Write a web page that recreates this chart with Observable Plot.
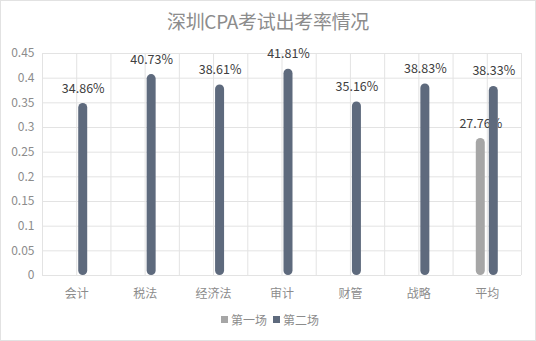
<!DOCTYPE html>
<html>
<head>
<meta charset="utf-8">
<script src="https://cdn.jsdelivr.net/npm/d3@7"></script>
<script src="https://cdn.jsdelivr.net/npm/@observablehq/plot@0.6"></script>
<style>
  html, body { margin: 0; padding: 0; background: #fff; }
  #wrap { position: relative; width: 536px; height: 341px; overflow: hidden; font-family: "Noto Sans CJK SC", "Noto Sans", sans-serif; }
  #wrap svg { position: absolute; left: 0; top: 0; }
  #title { position: absolute; left: 0; top: 7px; width: 536px; text-align: center; font-size: 19px; color: #8c8c8c; letter-spacing: -0.3px; }
  #legend { position: absolute; left: 0; top: 311px; width: 536px; display: flex; justify-content: center; align-items: center; font-size: 12px; color: #8c8c8c; padding-left: 4px; box-sizing: border-box; }
  #legend .sw { display: inline-block; width: 7px; height: 7px; margin-right: 3px; }
  #legend .item { display: flex; align-items: center; margin: 0 3px; }
  #frame { position: absolute; left: 0; top: 0; width: 536px; height: 341px; box-sizing: border-box; border: 1px solid #e2e2e2; pointer-events: none; }
</style>
</head>
<body>
<div id="wrap">
  <div id="chart"></div>
  <div id="title">深圳CPA考试出考率情况</div>
  <div id="legend"></div>
  <div id="frame"></div>
</div>
<script>
const categories = ["会计", "税法", "经济法", "审计", "财管", "战略", "平均"];
const seriesNames = ["第一场", "第二场"];
const firstSession = [null, null, null, null, null, null, 0.2776];
const secondSession = [0.3486, 0.4073, 0.3861, 0.4181, 0.3516, 0.3883, 0.3833];
const yTicks = [0, 0.05, 0.1, 0.15, 0.2, 0.25, 0.3, 0.35, 0.4, 0.45];
const colors = ["#a6a6a6", "#5e6a7d"];

const rows = [];
categories.forEach((c, i) => {
  if (firstSession[i] != null) rows.push({i, cat: c, series: seriesNames[0], value: firstSession[i]});
  if (secondSession[i] != null) rows.push({i, cat: c, series: seriesNames[1], value: secondSession[i]});
});
const r1 = rows.filter(d => d.series === seriesNames[0]);
const r2 = rows.filter(d => d.series === seriesNames[1]);

const xGrid = d3.range(-0.5, categories.length - 0.5 + 0.01, 0.5);
const fmt = d => (d * 100).toFixed(2) + "%";

const plotW = 536 - 42 - 15;
const band = plotW / categories.length;
const barW = 9;
const inset = (band - barW) / 2;

function bars(data, color, off) {
  return [
    Plot.rectY(data, {x1: d => d.i - 0.5, x2: d => d.i + 0.5, y1: 0, y2: "value", dx: off, fill: color, insetLeft: inset, insetRight: inset, rx: 4.5}),
    Plot.text(data, {x: "i", y: "value", dx: off, dy: -15, text: d => fmt(d.value), fill: "#404040", fontSize: 12.5})
  ];
}

const chart = Plot.plot({
  width: 536,
  height: 341,
  marginLeft: 42,
  marginRight: 15,
  marginTop: 53,
  marginBottom: 66,
  style: {fontFamily: "'Noto Sans CJK SC', 'Noto Sans', sans-serif", background: "transparent"},
  x: {type: "linear", domain: [-0.5, categories.length - 0.5]},
  y: {domain: [0, 0.45]},
  marks: [
    Plot.gridY(yTicks, {stroke: "#e3e3e3", strokeOpacity: 1}),
    Plot.gridX(xGrid, {stroke: "#e3e3e3", strokeOpacity: 1}),
    Plot.axisY(yTicks, {tickSize: 0, tickPadding: 8, tickFormat: d => String(+d.toFixed(2)), label: null, fill: "#8c8c8c", fontSize: 12}),
    Plot.axisX(d3.range(categories.length), {tickSize: 0, tickPadding: 14, tickFormat: i => categories[i], label: null, fill: "#8c8c8c", fontSize: 12}),
    ...bars(r1, colors[0], -6.5),
    ...bars(r2, colors[1], 6.5)
  ]
});
document.getElementById("chart").appendChild(chart);

const legend = document.getElementById("legend");
seriesNames.forEach((s, k) => {
  const item = document.createElement("span");
  item.className = "item";
  const sw = document.createElement("span");
  sw.className = "sw";
  sw.style.background = colors[k];
  item.appendChild(sw);
  item.appendChild(document.createTextNode(s));
  legend.appendChild(item);
});
</script>
</body>
</html>
